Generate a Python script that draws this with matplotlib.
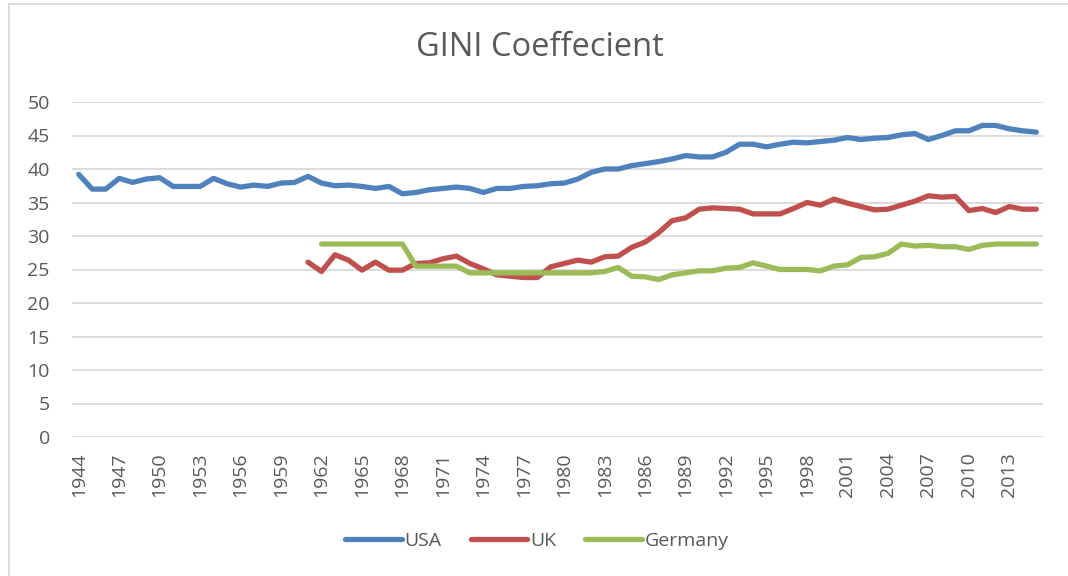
import matplotlib
matplotlib.use("Agg")
import matplotlib.pyplot as plt
from matplotlib.patches import Rectangle

plt.rcParams['font.family'] = ['Open Sans', 'DejaVu Sans']

years = list(range(1944, 2016))

usa = [39.2, 37.0, 37.0, 38.6, 38.0, 38.5, 38.7, 37.4, 37.4, 37.4,
       38.6, 37.8, 37.3, 37.6, 37.4, 37.9, 38.0, 38.9, 37.9, 37.5,
       37.6, 37.4, 37.1, 37.4, 36.3, 36.5, 36.9, 37.1, 37.3, 37.1,
       36.5, 37.1, 37.1, 37.4, 37.5, 37.8, 37.9, 38.5, 39.5, 40.0,
       40.0, 40.5, 40.8, 41.1, 41.5, 42.0, 41.8, 41.8, 42.5, 43.7,
       43.7, 43.3, 43.7, 44.0, 43.9, 44.1, 44.3, 44.7, 44.4, 44.6,
       44.7, 45.1, 45.3, 44.4, 45.0, 45.7, 45.7, 46.5, 46.5, 46.0,
       45.7, 45.5]

uk = [None] * 17 + [
    26.1, 24.7, 27.2, 26.4, 24.9, 26.1, 24.9, 24.9, 25.9, 26.0,
    26.6, 27.0, 25.9, 25.1, 24.2, 24.0, 23.8, 23.8, 25.4, 25.9,
    26.4, 26.1, 26.9, 27.0, 28.3, 29.1, 30.5, 32.3, 32.7, 34.0,
    34.2, 34.1, 34.0, 33.3, 33.3, 33.3, 34.1, 35.0, 34.6, 35.5,
    34.9, 34.4, 33.9, 34.0, 34.6, 35.2, 36.0, 35.8, 35.9, 33.8,
    34.1, 33.5, 34.4, 34.0, 34.0]

germany = [None] * 18 + [
    28.8, 28.8, 28.8, 28.8, 28.8, 28.8, 28.8, 25.5, 25.5, 25.5,
    25.5, 24.5, 24.5, 24.5, 24.5, 24.5, 24.5, 24.5, 24.5, 24.5,
    24.5, 24.7, 25.3, 24.0, 23.9, 23.5, 24.2, 24.5, 24.8, 24.8,
    25.2, 25.3, 26.0, 25.5, 25.0, 25.0, 25.0, 24.8, 25.5, 25.7,
    26.8, 26.9, 27.4, 28.8, 28.5, 28.6, 28.4, 28.4, 28.0, 28.6,
    28.8, 28.8, 28.8, 28.8]

tick_years = years[::3]

text_col = '#595959'
grid_col = '#D9D9D9'

fig = plt.figure(figsize=(10.68, 5.76), dpi=100)
ax = fig.add_axes([72 / 1068, 1 - 437 / 576, 971 / 1068, 335 / 576])

x = list(range(len(years)))
lw = 3.8
ax.plot(x, [float('nan') if v is None else v for v in usa], color='#4F81BD', lw=lw,
        solid_capstyle='round', solid_joinstyle='round', label='USA')
ax.plot(x, [float('nan') if v is None else v for v in uk], color='#C0504D', lw=lw,
        solid_capstyle='round', solid_joinstyle='round', label='UK')
ax.plot(x, [float('nan') if v is None else v for v in germany], color='#9BBB59', lw=lw,
        solid_capstyle='round', solid_joinstyle='round', label='Germany')

ax.set_xlim(-0.5, len(years) - 0.5)
ax.set_ylim(0, 50)
ax.set_yticks(range(0, 51, 5))
ax.set_xticks([years.index(y) for y in tick_years])
ax.set_xticklabels([str(y) for y in tick_years], rotation=90)
ax.tick_params(axis='both', length=0, labelsize=14, colors=text_col)
ax.tick_params(axis='y', pad=16)
ax.tick_params(axis='x', pad=11)
ax.grid(axis='y', color=grid_col, lw=1.3)
ax.set_axisbelow(True)
for s in ax.spines.values():
    s.set_visible(False)

fig.text(540 / 1068, 1 - 48 / 576, 'GINI Coeffecient', ha='center', va='center',
         fontsize=23.5, color=text_col)

leg = fig.legend(loc='center', bbox_to_anchor=(537 / 1068, 1 - 541 / 576), ncol=3,
                 frameon=False, fontsize=14, handlelength=2.9, handletextpad=0.15,
                 columnspacing=1.5)
for t in leg.get_texts():
    t.set_color(text_col)

fig.patches.append(Rectangle((9 / 1068, -0.05), 1.1, 1 - 4 / 576 + 0.05,
                             transform=fig.transFigure, fill=False,
                             edgecolor='#D9D9D9', lw=1.3))

fig.savefig('out.png', dpi=100)
